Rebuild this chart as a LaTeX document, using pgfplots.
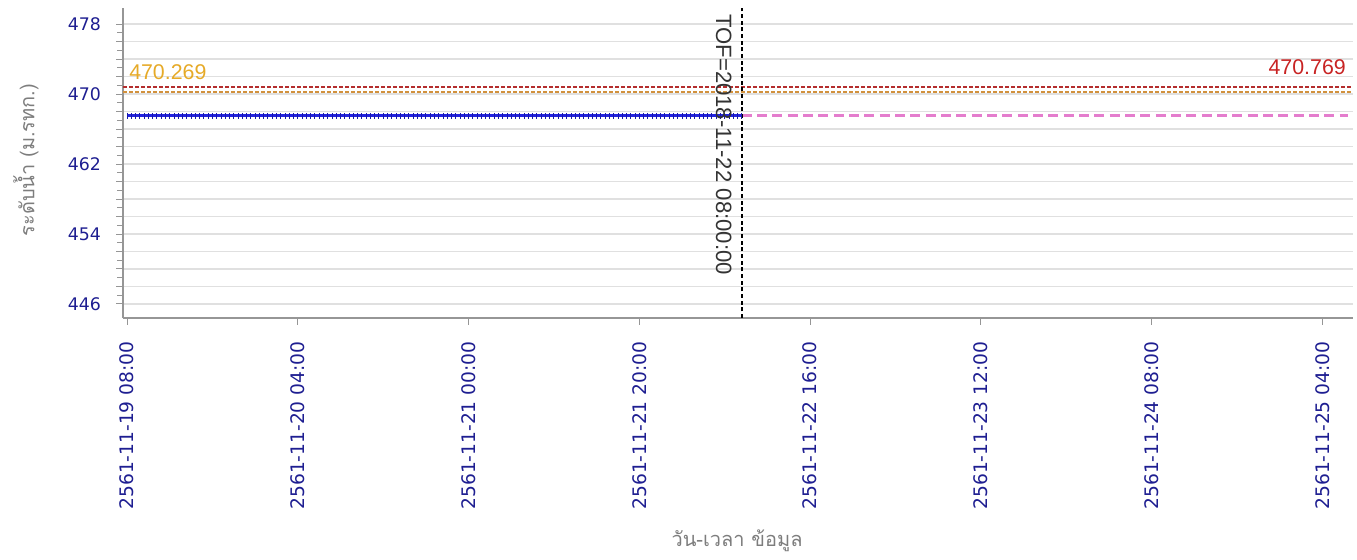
\documentclass[border=0pt]{standalone}
\usepackage{fontspec}
\setmainfont{DejaVu Sans}
\newfontfamily\thaifont[Script=Thai]{Loma}
\newfontfamily\arialfont{Liberation Sans}
\usepackage{pgfplots}
\pgfplotsset{compat=1.18}
\definecolor{navy}{RGB}{30,30,145}
\definecolor{gridgray}{RGB}{224,224,224}
\definecolor{tickgray}{RGB}{150,150,150}
\definecolor{bluec}{RGB}{35,35,225}
\definecolor{darkblue}{RGB}{25,25,170}
\definecolor{pinkc}{RGB}{228,125,205}
\definecolor{redc}{RGB}{180,45,45}
\definecolor{orangec}{RGB}{210,145,60}
\definecolor{labelorange}{RGB}{230,170,40}
\definecolor{labelred}{RGB}{200,35,35}
\definecolor{titlegray}{RGB}{125,125,125}
\begin{document}
\begin{tikzpicture}
\path[use as bounding box] (0pt,0pt) rectangle (1017.75pt,420pt);
\begin{axis}[
  at={(92.25pt,181.5pt)}, anchor=south west, scale only axis,
  width=922.5pt, height=232.5pt,
  xmin=-0.47, xmax=143.6, ymin=444.4, ymax=479.83,
  axis lines*=left,
  axis line style={draw=tickgray, line width=0.9pt},
  xtick={0,20,...,140},
  xticklabels={2561-11-19 08:00,2561-11-20 04:00,2561-11-21 00:00,2561-11-21 20:00,2561-11-22 16:00,2561-11-23 12:00,2561-11-24 08:00,2561-11-25 04:00},
  xticklabel style={rotate=90, anchor=east, font=\fontsize{14}{16}\selectfont, text=navy},
  xticklabel shift=9pt,
  ytick={446,448,...,478},
  yticklabels={446,,,,454,,,,462,,,,470,,,,478},
  yticklabel style={anchor=east, font=\fontsize{13}{15}\selectfont, text=navy},
  yticklabel shift=8pt,
  minor y tick num=1,
  ymajorgrids,
  major grid style={draw=gridgray, line width=1.3pt},
  tick align=outside,
  major tick length=5pt, minor tick length=4.5pt,
  tick style={draw=tickgray, line width=0.75pt},
  clip=false,
]
\addplot[orangec, line width=1.3pt, dash pattern=on 3pt off 1.5pt] coordinates {(-0.47,470.269) (143.6,470.269)};
\addplot[redc, line width=1.2pt, dash pattern=on 3pt off 1.5pt] coordinates {(-0.47,470.769) (143.6,470.769)};
\addplot[bluec, line width=2.4pt, mark=|, mark size=2.3pt, mark options={solid, line width=0.6pt, draw=darkblue}] coordinates {
(0,467.5) (0.5,467.5) (1,467.5) (1.5,467.5) (2,467.5) (2.5,467.5) (3,467.5) (3.5,467.5) (4,467.5) (4.5,467.5)
(5,467.5) (5.5,467.5) (6,467.5) (6.5,467.5) (7,467.5) (7.5,467.5) (8,467.5) (8.5,467.5) (9,467.5) (9.5,467.5)
(10,467.5) (10.5,467.5) (11,467.5) (11.5,467.5) (12,467.5) (12.5,467.5) (13,467.5) (13.5,467.5) (14,467.5) (14.5,467.5)
(15,467.5) (15.5,467.5) (16,467.5) (16.5,467.5) (17,467.5) (17.5,467.5) (18,467.5) (18.5,467.5) (19,467.5) (19.5,467.5)
(20,467.5) (20.5,467.5) (21,467.5) (21.5,467.5) (22,467.5) (22.5,467.5) (23,467.5) (23.5,467.5) (24,467.5) (24.5,467.5)
(25,467.5) (25.5,467.5) (26,467.5) (26.5,467.5) (27,467.5) (27.5,467.5) (28,467.5) (28.5,467.5) (29,467.5) (29.5,467.5)
(30,467.5) (30.5,467.5) (31,467.5) (31.5,467.5) (32,467.5) (32.5,467.5) (33,467.5) (33.5,467.5) (34,467.5) (34.5,467.5)
(35,467.5) (35.5,467.5) (36,467.5) (36.5,467.5) (37,467.5) (37.5,467.5) (38,467.5) (38.5,467.5) (39,467.5) (39.5,467.5)
(40,467.5) (40.5,467.5) (41,467.5) (41.5,467.5) (42,467.5) (42.5,467.5) (43,467.5) (43.5,467.5) (44,467.5) (44.5,467.5)
(45,467.5) (45.5,467.5) (46,467.5) (46.5,467.5) (47,467.5) (47.5,467.5) (48,467.5) (48.5,467.5) (49,467.5) (49.5,467.5)
(50,467.5) (50.5,467.5) (51,467.5) (51.5,467.5) (52,467.5) (52.5,467.5) (53,467.5) (53.5,467.5) (54,467.5) (54.5,467.5)
(55,467.5) (55.5,467.5) (56,467.5) (56.5,467.5) (57,467.5) (57.5,467.5) (58,467.5) (58.5,467.5) (59,467.5) (59.5,467.5)
(60,467.5) (60.5,467.5) (61,467.5) (61.5,467.5) (62,467.5) (62.5,467.5) (63,467.5) (63.5,467.5) (64,467.5) (64.5,467.5)
(65,467.5) (65.5,467.5) (66,467.5) (66.5,467.5) (67,467.5) (67.5,467.5) (68,467.5) (68.5,467.5) (69,467.5) (69.5,467.5)
(70,467.5) (70.5,467.5) (71,467.5) (71.5,467.5) (72,467.5)
};
\addplot[pinkc, line width=2.4pt, dash pattern=on 7.5pt off 4pt] coordinates {(72,467.5) (143,467.5)};
\addplot[black, line width=1.2pt, dash pattern=on 3pt off 2pt] coordinates {(72,444.4) (72,479.83)};
\end{axis}
\begin{scope}[x=0.75pt,y=0.75pt]
\node[anchor=base west, inner sep=0pt, text=labelorange, font=\arialfont\fontsize{16}{18}\selectfont] at (129,480) {470.269};
\node[anchor=base east, inner sep=0pt, text=labelred, font=\arialfont\fontsize{16}{18}\selectfont] at (1346,485) {470.769};
\node[anchor=base west, rotate=-90, inner sep=0pt, text=black!80, font=\arialfont\fontsize{16.6}{18}\selectfont] at (716,546) {TOF=2018-11-22 08:00:00};
\node[rotate=90, inner sep=0pt, text=titlegray, font=\thaifont\fontsize{15}{17}\selectfont] at (26,400) {ระดับน้ำ (ม.รทก.)};
\node[anchor=base, inner sep=0pt, text=titlegray, font=\thaifont\fontsize{15}{17}\selectfont] at (737,13) {วัน-เวลา ข้อมูล};
\end{scope}
\end{tikzpicture}
\end{document}
